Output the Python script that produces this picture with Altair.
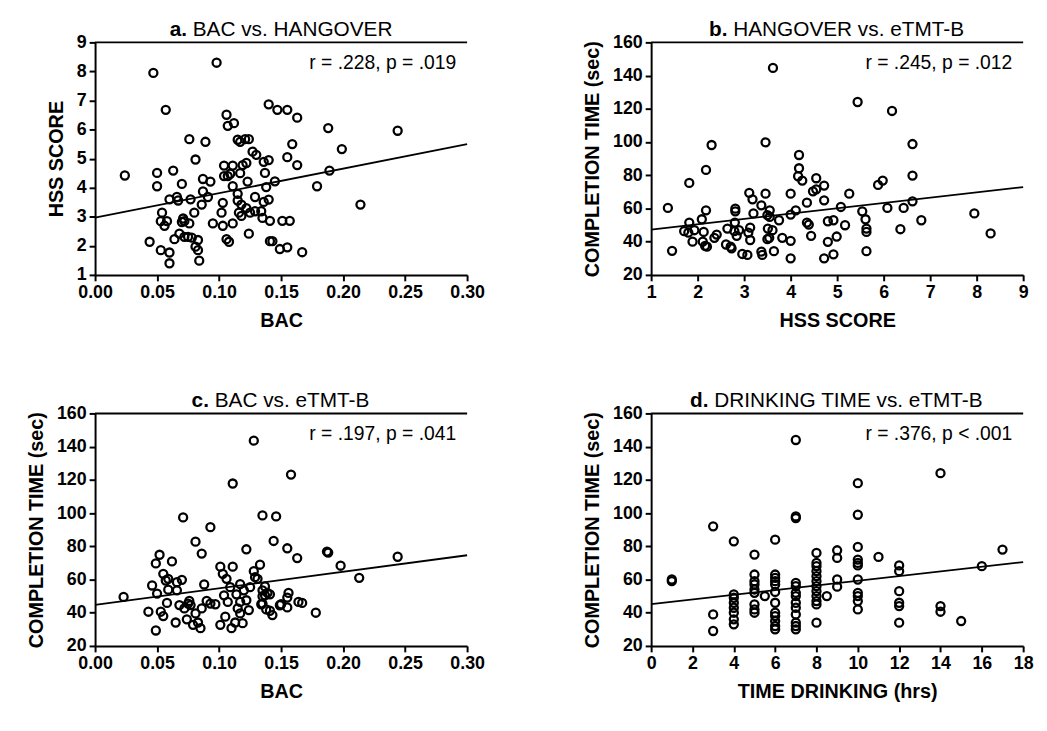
import altair as alt
import pandas as pd

# ---------------- data ----------------
bac_a = [0.024, 0.047, 0.098, 0.057, 0.044, 0.050, 0.050, 0.063, 0.054, 0.053,
         0.058, 0.056, 0.053, 0.060, 0.060, 0.064, 0.060, 0.066, 0.067, 0.070,
         0.071, 0.072, 0.070, 0.068, 0.072, 0.075, 0.076, 0.076, 0.077, 0.078,
         0.081, 0.083, 0.083, 0.084, 0.080, 0.081, 0.086, 0.087, 0.087, 0.089,
         0.091, 0.093, 0.095, 0.103, 0.102, 0.103, 0.104, 0.104, 0.107, 0.106,
         0.107, 0.112, 0.111, 0.109, 0.111, 0.106, 0.108, 0.111, 0.115, 0.117,
         0.121, 0.124, 0.117, 0.119, 0.122, 0.115, 0.115, 0.118, 0.116, 0.118,
         0.122, 0.123, 0.125, 0.124, 0.127, 0.130, 0.129, 0.129, 0.134, 0.135,
         0.136, 0.137, 0.138, 0.136, 0.140, 0.147, 0.155, 0.163, 0.188, 0.244,
         0.159, 0.199, 0.155, 0.163, 0.140, 0.145, 0.189, 0.179, 0.140, 0.141,
         0.151, 0.157, 0.214, 0.141, 0.143, 0.149, 0.155, 0.167]
hss_a = [4.42, 7.95, 8.30, 6.68, 2.14, 4.51, 4.05, 4.59, 3.14, 2.85,
         2.85, 2.69, 1.85, 1.77, 1.40, 2.23, 3.60, 3.68, 3.56, 4.13,
         2.94, 2.85, 2.82, 2.42, 2.31, 2.31, 2.77, 5.67, 3.60, 2.28,
         1.97, 2.20, 1.85, 1.49, 3.14, 4.97, 3.42, 3.87, 4.30, 5.58,
         3.68, 4.21, 2.77, 3.48, 3.14, 2.69, 4.76, 4.40, 4.40, 6.51,
         6.13, 6.22, 4.76, 4.48, 4.05, 2.23, 2.14, 2.77, 5.65, 5.58,
         5.67, 5.67, 4.50, 4.78, 4.85, 3.79, 3.56, 3.42, 3.14, 3.03,
         3.30, 4.21, 3.14, 2.42, 5.24, 5.13, 3.68, 3.19, 3.19, 2.96,
         4.89, 4.51, 4.02, 3.51, 6.87, 6.68, 6.68, 6.41, 6.05, 5.96,
         5.50, 5.33, 5.05, 4.78, 4.95, 4.22, 4.59, 4.05, 3.59, 2.86,
         2.86, 2.86, 3.42, 2.16, 2.16, 1.89, 1.95, 1.78]

hss_b = [1.36, 1.45, 1.82, 2.18, 2.30, 1.71, 1.82, 1.80, 1.93, 1.89,
         2.09, 2.13, 2.18, 2.11, 2.16, 2.20, 2.36, 2.41, 2.64, 2.61,
         2.71, 2.73, 2.81, 2.81, 2.80, 2.79, 2.84, 2.89, 2.96, 3.07,
         3.11, 3.18, 3.13, 3.09, 3.13, 3.20, 3.37, 3.46, 3.46, 3.39,
         3.37, 3.51, 3.50, 3.50, 3.62, 4.18, 4.18, 4.16, 4.25, 4.55,
         4.72, 4.48, 4.55, 4.72, 4.35, 4.00, 4.11, 4.00, 3.55, 3.55,
         3.75, 3.61, 3.54, 3.82, 4.00, 4.00, 3.64, 4.35, 4.39, 4.44,
         4.80, 4.92, 5.17, 4.99, 4.80, 4.72, 4.92, 5.08, 5.26, 5.44,
         6.18, 5.54, 5.61, 5.63, 5.63, 5.63, 5.88, 5.98, 6.08, 6.43,
         6.36, 6.62, 6.62, 6.62, 6.81, 7.95, 8.30]
time_b = [60.3, 34.5, 75.4, 83.2, 98.2, 46.3, 51.5, 45.5, 46.9, 40.0,
          53.5, 45.9, 58.9, 40.0, 37.5, 37.0, 42.3, 44.3, 47.9, 38.3,
          37.0, 36.0, 59.9, 58.3, 51.5, 46.3, 43.5, 46.9, 32.6, 32.0,
          69.4, 65.5, 48.5, 45.5, 41.0, 57.0, 61.9, 99.8, 68.9, 32.0,
          34.0, 47.9, 41.5, 56.0, 144.6, 92.2, 84.2, 79.4, 76.8, 78.2,
          73.8, 70.3, 71.5, 64.9, 63.5, 68.9, 58.9, 56.3, 58.9, 54.9,
          52.9, 46.9, 42.3, 42.3, 40.5, 30.0, 34.3, 51.5, 50.3, 43.5,
          52.3, 52.9, 49.9, 43.1, 39.9, 30.0, 32.4, 60.9, 68.9, 124.1,
          118.7, 58.3, 53.5, 47.9, 45.9, 34.3, 74.2, 76.8, 60.3, 60.3,
          47.5, 98.8, 79.8, 64.3, 52.9, 57.0, 45.0]

bac_c = [0.023, 0.043, 0.049, 0.046, 0.050, 0.049, 0.052, 0.062, 0.053, 0.055,
         0.058, 0.055, 0.057, 0.059, 0.059, 0.065, 0.066, 0.066, 0.070, 0.068,
         0.071, 0.072, 0.075, 0.076, 0.077, 0.074, 0.079, 0.081, 0.083, 0.085,
         0.081, 0.086, 0.088, 0.086, 0.090, 0.093, 0.093, 0.097, 0.101, 0.101,
         0.103, 0.104, 0.105, 0.106, 0.107, 0.110, 0.111, 0.111, 0.109, 0.113,
         0.114, 0.115, 0.117, 0.117, 0.119, 0.117, 0.120, 0.122, 0.124, 0.122,
         0.125, 0.128, 0.129, 0.128, 0.133, 0.135, 0.135, 0.135, 0.137, 0.158,
         0.146, 0.144, 0.155, 0.163, 0.187, 0.188, 0.198, 0.244, 0.213, 0.131,
         0.137, 0.139, 0.141, 0.135, 0.156, 0.155, 0.164, 0.167, 0.150, 0.149,
         0.155, 0.134, 0.138, 0.141, 0.143, 0.178]
time_c = [49.5, 40.6, 29.3, 56.4, 51.5, 69.7, 74.9, 70.9, 40.6, 38.0,
          45.9, 63.4, 59.4, 60.4, 53.9, 34.1, 53.5, 58.4, 59.8, 44.6,
          97.4, 42.6, 45.5, 47.1, 44.6, 36.0, 32.7, 39.6, 34.1, 30.7,
          82.8, 75.6, 57.0, 42.6, 47.1, 91.5, 45.5, 45.1, 67.7, 32.7,
          63.4, 50.5, 37.6, 60.4, 46.5, 30.7, 117.8, 67.7, 55.4, 34.1,
          51.1, 42.6, 46.5, 39.6, 33.7, 57.2, 53.5, 47.5, 41.6, 78.2,
          55.4, 65.0, 61.4, 143.6, 68.9, 98.6, 53.5, 45.5, 50.5, 123.2,
          98.0, 83.2, 78.8, 72.9, 76.8, 76.2, 68.3, 73.7, 61.0, 60.4,
          55.8, 51.9, 51.1, 49.9, 51.9, 49.1, 46.5, 45.9, 45.1, 44.5,
          43.2, 45.1, 42.0, 41.2, 38.6, 40.0]

hrs_d = [1, 1, 3, 3, 3,
         4, 4, 4, 4, 4, 4, 4, 4,
         5, 5, 5, 5, 5, 5, 5, 5, 5, 5.5,
         6, 6, 6, 6, 6, 6, 6, 6, 6, 6, 6, 6,
         7, 7, 7, 7, 7, 7, 7, 7, 7, 7, 7, 7, 7,
         8, 8, 8, 8, 8, 8, 8, 8, 8, 8, 8, 8, 8.5,
         9, 9, 9, 9,
         10, 10, 10, 10, 10, 10, 10, 10, 10, 10, 10, 11,
         12, 12, 12, 12, 12, 12,
         14, 14, 14, 15, 16, 17]
time_d = [59, 60, 92, 39, 29,
          83, 51, 49, 46, 43, 40, 36, 33,
          75, 63, 59, 57, 54, 52, 45, 42, 40, 50,
          84, 63, 61, 59, 57, 52.5, 46, 40, 38, 35, 32, 30,
          144, 98, 97, 58, 56, 52, 50, 46, 43, 39, 34, 32, 30,
          76, 70, 68, 65, 62, 59, 56, 53, 50, 47, 45, 34, 50,
          77.6, 73, 60, 55.7,
          118, 99, 79.6, 72, 70, 68.5, 60, 52, 50, 47, 42, 73.6,
          68.5, 65, 53, 46, 44, 34,
          124, 44, 40.6, 35, 68, 78]

# regression line end points
fit_a_x, fit_a_y = [0.0, 0.30], [2.97, 5.50]
fit_b_x, fit_b_y = [1.0, 9.0], [47.3, 72.9]
fit_c_x, fit_c_y = [0.0, 0.30], [44.7, 74.6]
fit_d_x, fit_d_y = [0.0, 18.0], [45.2, 70.5]

bac_ticks = [0.0, 0.05, 0.10, 0.15, 0.20, 0.25, 0.30]
hss_ticks = [1, 2, 3, 4, 5, 6, 7, 8, 9]
time_ticks = [20, 40, 60, 80, 100, 120, 140, 160]
hrs_ticks = [0, 2, 4, 6, 8, 10, 12, 14, 16, 18]

# ---------------- layout helpers ----------------
W, H = 376, 235
TF = 21
FONT = "Liberation Sans"

REG = {' ': 278, '.': 278, '-': 333, 'A': 667, 'B': 667, 'C': 722, 'D': 722,
       'E': 667, 'G': 778, 'H': 722, 'I': 278, 'K': 667, 'M': 833, 'N': 722,
       'O': 778, 'R': 722, 'T': 611, 'V': 667, 'e': 556, 's': 500, 'v': 500}
BOLD = {'a': 556, 'b': 611, 'c': 556, 'd': 611, '.': 278, ' ': 278}


def tw(s, table, fs):
    return sum(table.get(ch, 600) for ch in s) * fs / 1000.0


def panel(xv, yv, xdom, ydom, xticks, yticks, xfmt, xtitle, ytitle,
          fx, fy, letter, rest, rtxt):
    df = pd.DataFrame({'x': xv, 'y': yv})
    xs = alt.Scale(domain=xdom, nice=False, zero=False)
    ys = alt.Scale(domain=ydom, nice=False, zero=False)
    xa = alt.Axis(values=xticks, format=xfmt, title=xtitle)
    ya = alt.Axis(values=yticks, format='d', title=ytitle)
    pts = alt.Chart(df).mark_point(shape='circle', filled=False, color='black',
                                   size=66, strokeWidth=2.3, opacity=1).encode(
        x=alt.X('x:Q', scale=xs, axis=xa), y=alt.Y('y:Q', scale=ys, axis=ya))
    fit = alt.Chart(pd.DataFrame({'x': fx, 'y': fy})).mark_line(
        color='black', strokeWidth=1.8).encode(
        x=alt.X('x:Q', scale=xs, axis=xa), y=alt.Y('y:Q', scale=ys, axis=ya))
    one = pd.DataFrame({'k': [0]})
    top = alt.Chart(one).mark_rule(color='black', strokeWidth=2).encode(
        x=alt.value(0), x2=alt.value(W), y=alt.value(0))
    lw = tw(letter + ' ', BOLD, TF)
    total = lw + tw(rest, REG, TF)
    x0 = W / 2 - total / 2
    t1 = alt.Chart(one).mark_text(text=letter, font=FONT, fontWeight='bold',
                                  fontSize=TF, align='left', baseline='alphabetic',
                                  color='black').encode(
        x=alt.value(x0), y=alt.value(-6))
    t2 = alt.Chart(one).mark_text(text=rest, font=FONT, fontWeight='normal',
                                  fontSize=TF, align='left', baseline='alphabetic',
                                  color='black').encode(
        x=alt.value(x0 + lw), y=alt.value(-6))
    rt = alt.Chart(one).mark_text(text=rtxt, font=FONT, fontSize=19.5,
                                  align='right', baseline='alphabetic',
                                  color='black').encode(
        x=alt.value(W - 11), y=alt.value(27))
    return alt.layer(pts, fit, top, t1, t2, rt).properties(width=W, height=H)


pa = panel(bac_a, hss_a, [0, 0.30], [1, 9], bac_ticks, hss_ticks, '.2f',
           'BAC', 'HSS SCORE', fit_a_x, fit_a_y, 'a.', 'BAC vs. HANGOVER',
           'r = .228, p = .019')
pb = panel(hss_b, time_b, [1, 9], [20, 160], hss_ticks, time_ticks, 'd',
           'HSS SCORE', 'COMPLETION TIME (sec)', fit_b_x, fit_b_y, 'b.',
           'HANGOVER vs. eTMT-B', 'r = .245, p = .012')
pc = panel(bac_c, time_c, [0, 0.30], [20, 160], bac_ticks, time_ticks, '.2f',
           'BAC', 'COMPLETION TIME (sec)', fit_c_x, fit_c_y, 'c.',
           'BAC vs. eTMT-B', 'r = .197, p = .041')
pd_ = panel(hrs_d, time_d, [0, 18], [20, 160], hrs_ticks, time_ticks, 'd',
            'TIME DRINKING (hrs)', 'COMPLETION TIME (sec)', fit_d_x, fit_d_y,
            'd.', 'DRINKING TIME vs. eTMT-B', 'r = .376, p < .001')

chart = alt.concat(pa, pb, pc, pd_, columns=2, bounds='flush',
                   spacing={'row': 140, 'column': 186}).configure(
    padding={'left': 18, 'top': 8, 'right': 5, 'bottom': 5},
    background='white'
).configure_view(stroke=None).configure_axis(
    domainColor='black', domainWidth=2, tickColor='black', tickWidth=2,
    tickSize=6, labelColor='black', labelFont=FONT, labelFontWeight='bold',
    labelFontSize=18, labelPadding=3, titleFont=FONT, titleFontWeight='bold',
    titleFontSize=20, titleColor='black', grid=False, labelFlush=False,
    labelOverlap=False
).configure_axisX(titlePadding=9).configure_axisY(titlePadding=10)

chart.save("out.html", embed_options={"renderer": "svg", "actions": False})
